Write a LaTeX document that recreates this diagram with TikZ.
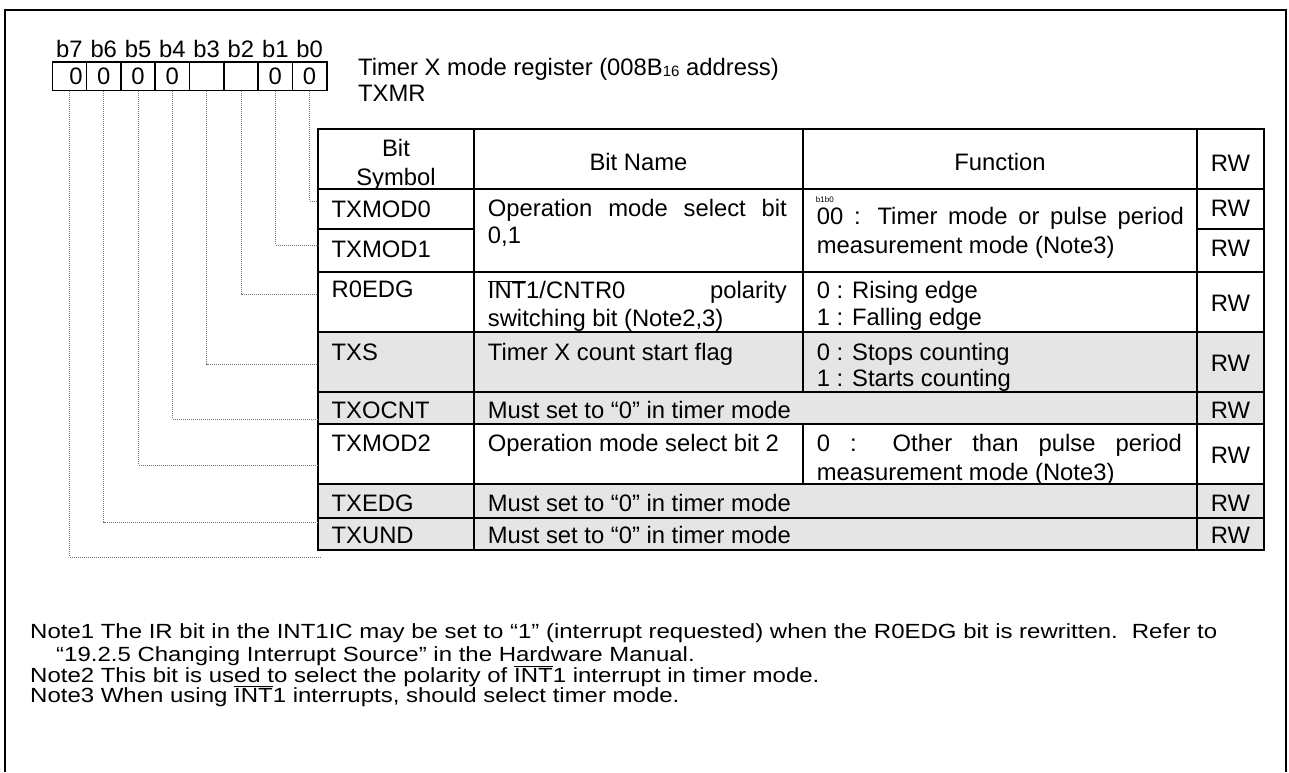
\documentclass[tikz,border=0pt]{standalone}
\usepackage{fontspec}
\setmainfont{Liberation Sans}
\newfontfamily\notefont[FakeStretch=1.17]{Liberation Sans}
\newcommand\tfs{\fontsize{23.8}{28}\selectfont}
\newcommand\nfs{\notefont\fontsize{20.5}{23}\selectfont}
\newcommand\ovl[1]{$\overline{\mbox{#1}}$}
\tikzset{
  txt/.style={anchor=base west, inner sep=0pt, font=\tfs},
  ctr/.style={anchor=base, inner sep=0pt, font=\tfs},
  note/.style={anchor=base west, inner sep=0pt, font=\nfs},
  cell/.style={draw, line width=1.6pt, minimum width=34.3pt, minimum height=28.7pt, inner sep=0pt, font=\tfs},
  tline/.style={line width=1.8pt},
  leader/.style={draw=black!55, line width=0.9pt, dash pattern=on 1pt off 1pt},
  frame/.style={line width=2.6pt},
  shade/.style={fill=black!10, draw=none}
}
\begin{document}
\begin{tikzpicture}[x=1pt,y=-1pt]
\useasboundingbox (0,0) rectangle (1289,772);
% outer frame
\draw[frame] (5,772) -- (5,10) -- (1286,10) -- (1286,772);

% bit labels
\foreach \i/\x in {7/69.45,6/103.75,5/138.05,4/172.35,3/206.65,2/240.95,1/275.25,0/309.55}
  \node[ctr] (lb\i) at (\x,57.5) {b\i};

% register cells
\node[cell] (c7) at (69.45,76.3) {\hspace*{13pt}0};
\node[cell] (c6) at (103.75,76.3) {0};
\node[cell] (c5) at (138.05,76.3) {0};
\node[cell] (c4) at (172.35,76.3) {0};
\node[cell] (c3) at (206.65,76.3) {};
\node[cell] (c2) at (240.95,76.3) {};
\node[cell] (c1) at (275.25,76.3) {0};
\node[cell] (c0) at (309.55,76.3) {0};

% title
\node[txt] (title) at (358,75.5) {Timer X mode register (008B\raisebox{-1pt}{\fontsize{15}{15}\selectfont 16} address)};
\node[txt] (tname) at (358,101.5) {TXMR};

% table shading
\fill[shade] (318,332) rectangle (1264,424);
\fill[shade] (318,484) rectangle (1264,550);

% table lines
\draw[tline] (318,129) rectangle (1264,550);
\draw[tline] (318,189) -- (1264,189);
\draw[tline] (318,229) -- (474,229);
\draw[tline] (1197,229) -- (1264,229);
\foreach \y in {272,332,392,424,484,518} \draw[tline] (318,\y) -- (1264,\y);
\draw[tline] (474,129) -- (474,550);
\draw[tline] (1197,129) -- (1197,550);
\draw[tline] (803,129) -- (803,392);
\draw[tline] (803,424) -- (803,484);

% header
\node[ctr] (hbit) at (396,156.5) {Bit};
\node[ctr] (hsym) at (396,185) {Symbol};
\node[ctr] (hname) at (638.5,170.5) {Bit Name};
\node[ctr] (hfun) at (1000,170.5) {Function};
\node[ctr] (hrw) at (1230.5,171) {RW};

% symbols
\node[txt] (s0) at (331.5,217.5) {TXMOD0};
\node[txt] (s1) at (331.5,257.5) {TXMOD1};
\node[txt] (s2) at (331.5,297.5) {R0EDG};
\node[txt] (s3) at (331.5,360.5) {TXS};
\node[txt] (s4) at (331.5,418.5) {TXOCNT};
\node[txt] (s5) at (331.5,451.5) {TXMOD2};
\node[txt] (s6) at (331.5,511.5) {TXEDG};
\node[txt] (s7) at (331.5,543.5) {TXUND};

% bit names
\node[txt] (n01a) at (487.7,216.5) {\makebox[299pt][s]{Operation mode select bit}};
\node[txt] (n01b) at (487.7,243.5) {0,1};
\node[txt] (n2a) at (487.7,298.5) {\makebox[299pt][s]{\ovl{INT}1/CNTR0 polarity}};
\node[txt] (n2b) at (487.7,326.5) {switching bit (Note2,3)};
\node[txt] (n3) at (487.7,360.5) {Timer X count start flag};
\node[txt] (n4) at (487.7,418.5) {Must set to “0” in timer mode};
\node[txt] (n5) at (487.7,451.5) {Operation mode select bit 2};
\node[txt] (n6) at (487.7,511.5) {Must set to “0” in timer mode};
\node[txt] (n7) at (487.7,543.5) {Must set to “0” in timer mode};

% functions
\node[anchor=base west, inner sep=0pt, font=\fontsize{8}{9}\selectfont] (fb) at (815.7,202.5) {b1b0};
\node[txt] (f01a) at (816.7,224) {\makebox[367pt][s]{00 : Timer mode or pulse period}};
\node[txt] (f01b) at (816.7,253.5) {measurement mode (Note3)};
\node[txt] (f2a) at (816.7,298.5) {0 : Rising edge};
\node[txt] (f2b) at (816.7,325.5) {1 : Falling edge};
\node[txt] (f3a) at (816.7,360) {0 : Stops counting};
\node[txt] (f3b) at (816.7,386.5) {1 : Starts counting};
\node[txt] (f5a) at (816.7,451.5) {\makebox[365pt][s]{0 : Other than pulse period}};
\node[txt] (f5b) at (816.7,480) {measurement mode (Note3)};

% RW
\foreach \n/\y in {0/216.5,1/256.5,2/311,3/371.5,4/418.5,5/463.5,6/511.5,7/543.5}
  \node[ctr] (rw\n) at (1230.5,\y) {RW};

% leader end points
\coordinate (e0) at (318,201);
\coordinate (e1) at (318,245);
\coordinate (e2) at (318,294);
\coordinate (e3) at (318,364);
\coordinate (e4) at (318,419);
\coordinate (e5) at (318,465);
\coordinate (e6) at (318,522);
\coordinate (e7) at (320,557);
\foreach \i in {0,...,7} \draw[leader] (c\i.south) |- (e\i);

% notes
\node[note] (note1) at (30,638) {Note1 The IR bit in the INT1IC may be set to “1” (interrupt requested) when the R0EDG bit is rewritten.\hspace{14pt}Refer to};
\node[note] (note1b) at (56,661) {“19.2.5 Changing Interrupt Source” in the Hardware Manual.};
\node[note] (note2) at (30,682) {Note2 This bit is used to select the polarity of \ovl{INT}1 interrupt in timer mode.};
\node[note] (note3) at (30,702) {Note3 When using \ovl{INT}1 interrupts, should select timer mode.};
\end{tikzpicture}
\end{document}
